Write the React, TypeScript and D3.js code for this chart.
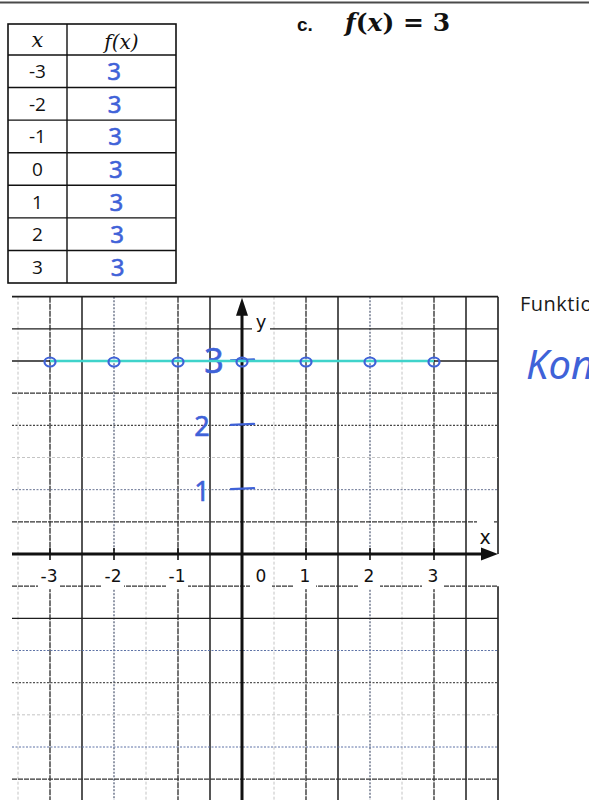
import React from "react";
import * as d3 from "d3";

// Value table for f(x) = 3
const xValues = [-3, -2, -1, 0, 1, 2, 3];
const fValues = [3, 3, 3, 3, 3, 3, 3];
// Axis labels
const xTickLabels = ["-3", "-2", "-1", "0", "1", "2", "3"];
const yTickValues = [1, 2, 3];
const titleLetter = "c.";
const sideHeading = "Funktio";
const sideAnswer = "Kon";

const W = 589;
const H = 803;
const INK = "#3f62d8";
const CYAN = "#3fd3cb";
const HAND = "'Noto Sans', 'DejaVu Sans', sans-serif";

// Coordinate system of the grid paper
const x = d3.scaleLinear().domain([-3, 3]).range([50, 434]);
const y = d3.scaleLinear().domain([0, 3]).range([554, 361]);
const GRID_LEFT = 12;
const GRID_RIGHT = x(4);
const GRID_TOP = y(4);
const GRID_BOTTOM = 800;

type LineStyle = { stroke: string; width: number; dash?: string };

function verticalStyle(v: number): LineStyle {
  if (v === 4) return { stroke: "#1e1e1e", width: 1.6 };
  const frac = ((v % 2) + 2) % 2;
  if (frac === 1.5) return { stroke: "#1e1e1e", width: 1.5 };
  if (frac === 0.5) return { stroke: "#c4c4c4", width: 1, dash: "3,2" };
  if (frac === 1) return { stroke: "#2a2a2a", width: 1.3, dash: "6,1" };
  return { stroke: "#4b5670", width: 1.2, dash: "2,1.5" };
}

const horizontalStyles: Record<string, LineStyle> = {
  "4": { stroke: "#1e1e1e", width: 1.6 },
  "3.5": { stroke: "#1e1e1e", width: 1.4 },
  "3": { stroke: "#1e1e1e", width: 1.4 },
  "2.5": { stroke: "#333", width: 1.3, dash: "5,1" },
  "2": { stroke: "#444", width: 1.2, dash: "2,1.5" },
  "1.5": { stroke: "#c4c4c4", width: 1, dash: "3,2" },
  "1": { stroke: "#6a7594", width: 1, dash: "2,1.5" },
  "0.5": { stroke: "#333", width: 1.3, dash: "5,1" },
  "-0.5": { stroke: "#333", width: 1.3, dash: "5,1" },
  "-1": { stroke: "#1e1e1e", width: 1.4 },
  "-1.5": { stroke: "#5e73a6", width: 1, dash: "2,1.5" },
  "-2": { stroke: "#555", width: 1.1, dash: "2,1.5" },
  "-2.5": { stroke: "#c4c4c4", width: 1, dash: "3,2" },
  "-3": { stroke: "#5e73a6", width: 1, dash: "2,1.5" },
  "-3.5": { stroke: "#333", width: 1.3, dash: "5,1" },
};

const xGrid = d3.range(-3.5, 4.01, 0.5).filter((v) => v !== 0);
const yGrid = d3.range(-3.5, 4.01, 0.5).filter((v) => v !== 0);

// Value table layout
const TABLE_LEFT = 8;
const TABLE_MID = 67;
const TABLE_RIGHT = 176;
const TABLE_TOP = 24;
const HEADER_BOTTOM = 55;
const row = d3.scaleLinear().domain([0, xValues.length]).range([HEADER_BOTTOM, 283]);

const line = d3
  .line<number>()
  .x((_, i) => x(xValues[i]))
  .y((d) => y(d));

export default function App() {
  return (
    <svg
      width={W}
      height={H}
      style={{ position: "absolute", left: 0, top: 0, background: "#fff" }}
    >
      <rect width={W} height={H} fill="#fff" />
      {/* page rule at the top */}
      <line x1={0} x2={W} y1={2.5} y2={2.5} stroke="#4a4a4a" strokeWidth={2} />

      {/* value table */}
      <g>
        <rect
          x={TABLE_LEFT}
          y={TABLE_TOP}
          width={TABLE_RIGHT - TABLE_LEFT}
          height={row(xValues.length) - TABLE_TOP}
          fill="none"
          stroke="#111"
          strokeWidth={1.6}
        />
        <line x1={TABLE_MID} x2={TABLE_MID} y1={TABLE_TOP} y2={row(xValues.length)} stroke="#111" strokeWidth={1.4} />
        {xValues.map((_, i) => (
          <line
            key={"r" + i}
            x1={TABLE_LEFT}
            x2={TABLE_RIGHT}
            y1={row(i)}
            y2={row(i)}
            stroke="#111"
            strokeWidth={1.4}
          />
        ))}
        <text
          x={(TABLE_LEFT + TABLE_MID) / 2}
          y={47}
          textAnchor="middle"
          fontFamily="'DejaVu Serif', serif"
          fontStyle="italic"
          fontSize={21}
          fill="#111"
        >
          x
        </text>
        <text
          x={(TABLE_MID + TABLE_RIGHT) / 2}
          y={49}
          textAnchor="middle"
          fontFamily="'DejaVu Serif', serif"
          fontStyle="italic"
          fontSize={20}
          fill="#111"
        >
          f(x)
        </text>
        {xValues.map((v, i) => (
          <text
            key={"x" + i}
            x={(TABLE_LEFT + TABLE_MID) / 2}
            y={(row(i) + row(i + 1)) / 2 + 7}
            textAnchor="middle"
            fontFamily="'Open Sans', sans-serif"
            fontSize={19}
            fill="#111"
          >
            {v}
          </text>
        ))}
        {fValues.map((v, i) => (
          <text
            key={"f" + i}
            x={114 + i * 0.6}
            y={(row(i) + row(i + 1)) / 2 + 9}
            textAnchor="middle"
            fontFamily={HAND}
            fontSize={24}
            stroke={INK}
            strokeWidth={0.6}
            fill={INK}
          >
            {v}
          </text>
        ))}
      </g>

      {/* heading */}
      <text x={297} y={31} fontFamily="'Liberation Sans', sans-serif" fontWeight="bold" fontSize={19} fill="#111">
        {titleLetter}
      </text>
      <text x={345} y={31} fontFamily="'DejaVu Serif', serif" fontWeight="bold" fontSize={25} fill="#111">
        <tspan fontStyle="italic">f</tspan>
        <tspan>(</tspan>
        <tspan fontStyle="italic">x</tspan>
        <tspan>) = 3</tspan>
      </text>

      {/* grid paper */}
      <g>
        {xGrid.map((v) => {
          const s = verticalStyle(v);
          const isInt = Number.isInteger(v);
          const px = x(v);
          return isInt ? (
            <g key={"v" + v}>
              <line x1={px} x2={px} y1={GRID_TOP} y2={y(0)} stroke={s.stroke} strokeWidth={s.width} strokeDasharray={s.dash} />
              <line x1={px} x2={px} y1={y(-0.5)} y2={GRID_BOTTOM} stroke={s.stroke} strokeWidth={s.width} strokeDasharray={s.dash} />
            </g>
          ) : (
            <line
              key={"v" + v}
              x1={px}
              x2={px}
              y1={GRID_TOP}
              y2={GRID_BOTTOM}
              stroke={s.stroke}
              strokeWidth={s.width}
              strokeDasharray={s.dash}
            />
          );
        })}
        {yGrid.map((v) => {
          const s = horizontalStyles[String(v)];
          return (
            <line
              key={"h" + v}
              x1={GRID_LEFT}
              x2={GRID_RIGHT}
              y1={y(v)}
              y2={y(v)}
              stroke={s.stroke}
              strokeWidth={s.width}
              strokeDasharray={s.dash}
            />
          );
        })}
      </g>

      {/* axes */}
      <g>
        <line x1={GRID_LEFT} x2={GRID_RIGHT - 14} y1={y(0)} y2={y(0)} stroke="#111" strokeWidth={3} />
        <path
          d={`M${GRID_RIGHT},${y(0)} L${GRID_RIGHT - 17},${y(0) - 6.5} L${GRID_RIGHT - 17},${y(0) + 6.5} Z`}
          fill="#111"
        />
        <line x1={x(0)} x2={x(0)} y1={GRID_BOTTOM} y2={GRID_TOP + 16} stroke="#111" strokeWidth={3} />
        <path
          d={`M${x(0)},${GRID_TOP + 1} L${x(0) - 6},${GRID_TOP + 19} L${x(0) + 6},${GRID_TOP + 19} Z`}
          fill="#111"
        />
        {xValues.map((v) => (
          <line key={"t" + v} x1={x(v)} x2={x(v)} y1={y(0) - 6} y2={y(0) + 6} stroke="#111" strokeWidth={1.6} />
        ))}
        {xTickLabels.map((lab, i) => {
          const cx = xValues[i] === 0 ? x(0) + 19 : x(xValues[i]) - 1;
          return (
            <g key={"l" + lab}>
              <rect x={cx - 11} y={y(0) + 7} width={22} height={y(-0.5) - y(0) - 4} fill="#fff" />
              <text
                x={cx}
                y={y(0) + 28}
                textAnchor="middle"
                fontFamily="'DejaVu Sans', sans-serif"
                fontSize={17}
                fill="#111"
              >
                {lab}
              </text>
            </g>
          );
        })}
        <rect x={x(0) + 10} y={y(3.5) - 14} width={18} height={17} fill="#fff" />
        <text x={x(0) + 19} y={y(3.5) - 1} textAnchor="middle" fontFamily="'DejaVu Sans', sans-serif" fontSize={18} fill="#111">
          y
        </text>
        <rect x={GRID_RIGHT - 21} y={y(0.5) - 3} width={17} height={20} fill="#fff" />
        <text x={GRID_RIGHT - 13} y={y(0) - 10} textAnchor="middle" fontFamily="'DejaVu Sans', sans-serif" fontSize={19} fill="#111">
          x
        </text>
      </g>

      {/* handwritten y-axis scale */}
      <g>
        {yTickValues.map((v) => (
          <g key={"yt" + v}>
            <line
              x1={x(0) - 11}
              x2={x(0) + 12}
              y1={y(v) - 0.5}
              y2={y(v) - 1.5}
              stroke={INK}
              strokeWidth={2.4}
              strokeLinecap="round"
            />
            <text
              x={v === 3 ? x(0) - 28 : x(0) - 40}
              y={y(v) + (v === 3 ? 12 : 11)}
              textAnchor="middle"
              fontFamily={HAND}
              fontSize={v === 3 ? 34 : 27}
              stroke={INK}
              strokeWidth={0.6}
              fill={INK}
            >
              {v}
            </text>
          </g>
        ))}
      </g>

      {/* graph of f */}
      <path d={line(fValues) ?? ""} fill="none" stroke={CYAN} strokeWidth={2.6} />
      {fValues.map((v, i) => (
        <ellipse
          key={"p" + i}
          cx={x(xValues[i])}
          cy={y(v) + 1}
          rx={5.5}
          ry={4.5}
          fill="none"
          stroke={INK}
          strokeWidth={2.2}
        />
      ))}

      {/* side note */}
      <text x={520} y={311} fontFamily="'Open Sans', sans-serif" fontSize={20} letterSpacing={0.5} fill="#1a1a1a">
        {sideHeading}
      </text>
      <text x={526} y={379} fontFamily={HAND} fontSize={40} fontStyle="italic" fill={INK}>
        {sideAnswer}
      </text>
    </svg>
  );
}
